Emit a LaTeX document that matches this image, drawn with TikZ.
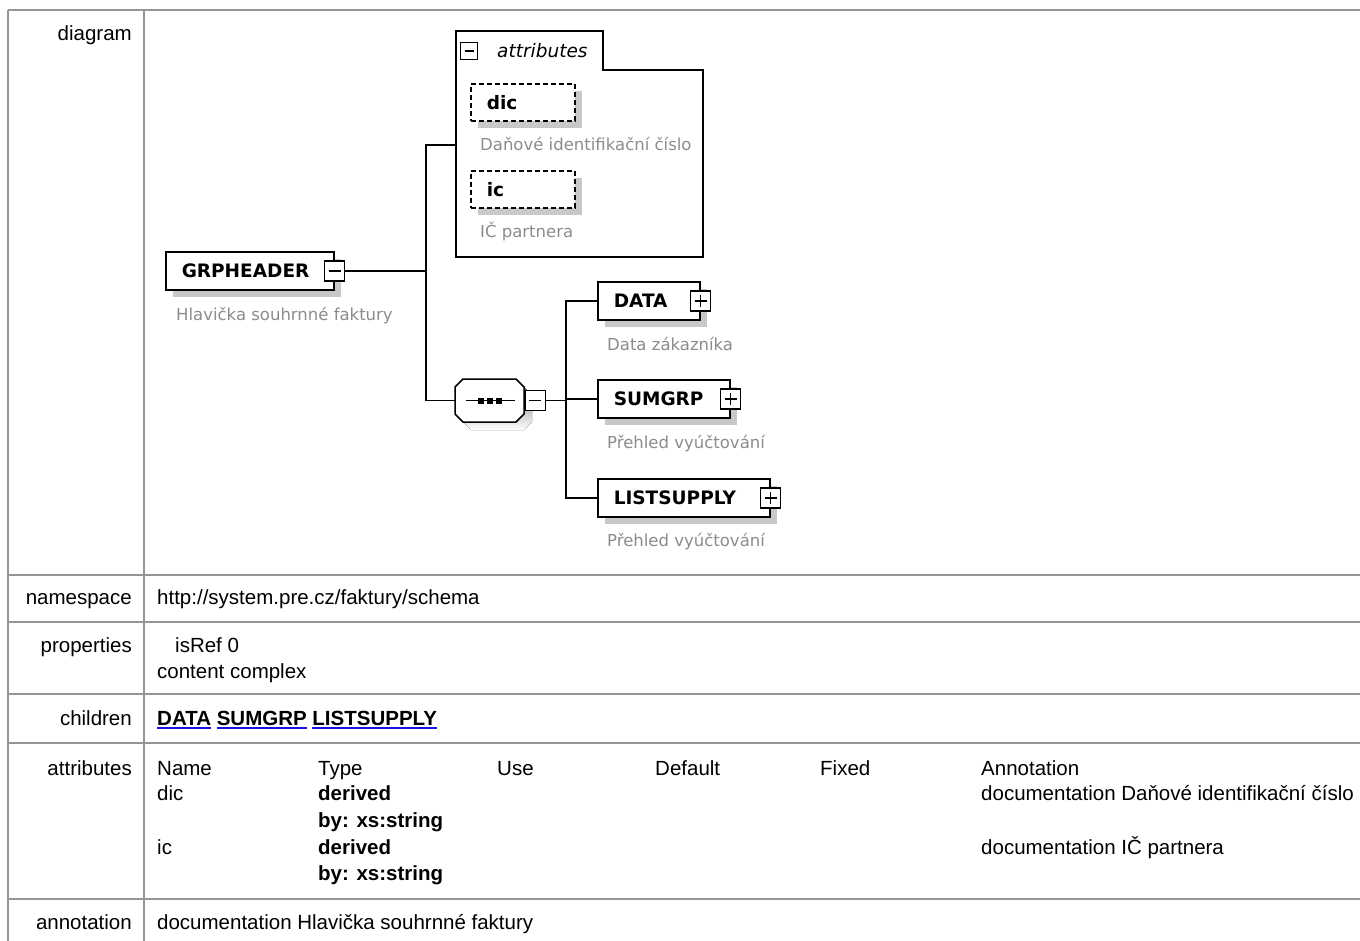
\documentclass[tikz,border=0pt]{standalone}
\usepackage{fontspec}
\setmainfont{Liberation Sans}
\newfontfamily\diagfont{DejaVu Sans}[BoldFont={DejaVu Sans Bold},ItalicFont={DejaVu Sans Oblique}]
\usetikzlibrary{shadows}
\definecolor{rulegray}{RGB}{150,150,150}
\definecolor{descgray}{RGB}{140,140,140}
\definecolor{shade}{RGB}{200,200,200}
\definecolor{linkblue}{RGB}{20,20,220}
\newcommand\tablefont{\fontsize{20.5}{25}\selectfont}
\newcommand\namefont{\diagfont\bfseries\fontsize{18.5}{22}\selectfont}
\newcommand\descfont{\diagfont\fontsize{16.5}{19}\selectfont}
\newcommand\tabfont{\diagfont\itshape\fontsize{18.5}{22}\selectfont}
\newcommand\linkword[1]{\setbox0\hbox{\bfseries #1}\rlap{\color{linkblue}\rule[-3.5pt]{\wd0}{1.8pt}}\box0\relax}

\begin{document}
\begin{tikzpicture}[x=1pt,y=-1pt,
  rowline/.style={rulegray, line width=2pt},
  colline/.style={rulegray, line width=1.5pt},
  lbl/.style={anchor=base east, inner sep=0pt, font=\tablefont},
  txt/.style={anchor=base west, inner sep=0pt, font=\tablefont},
  conn/.style={black, line width=1.5pt},
  elem/.style={draw, line width=1.5pt, fill=white,
    general shadow={fill=shade, shadow xshift=7pt, shadow yshift=-7pt},
    minimum height=38pt, inner xsep=16pt, inner ysep=0pt,
    text width=#1, align=left, anchor=west, font=\namefont},
  attrel/.style={elem=72pt, dash pattern=on 5pt off 3pt, minimum height=37pt},
  desc/.style={anchor=base west, inner sep=0pt, text=descgray, font=\descfont},
  pmbox/.style={draw, line width=1.3pt, fill=white, minimum size=20pt, inner sep=0pt,
    path picture={\draw[line width=1.3pt] ([xshift=4pt]path picture bounding box.west) -- ([xshift=-4pt]path picture bounding box.east);}},
  plusbox/.style={draw, line width=1.3pt, fill=white, minimum size=20pt, inner sep=0pt,
    path picture={\draw[line width=1.3pt] ([xshift=4pt]path picture bounding box.west) -- ([xshift=-4pt]path picture bounding box.east);
      \draw[line width=1.3pt] ([yshift=-4pt]path picture bounding box.north) -- ([yshift=4pt]path picture bounding box.south);}}]
  \useasboundingbox (0,0) rectangle (1360,941);
  \fill[white] (0,0) rectangle (1360,941);

  \foreach \ry in {10,575,622,694,743,899}
    \draw[rowline] (8,\ry) -- (1360,\ry);
  \draw[colline] (8,10) -- (8,941);
  \draw[colline] (144,10) -- (144,941);

  \node[lbl] (ldiagram) at (132,41) {diagram};
  \node[lbl] (lnamespace) at (132,604) {namespace};
  \node[lbl] (lproperties) at (132,652) {properties};
  \node[lbl] (lchildren) at (132,725) {children};
  \node[lbl] (lattributes) at (132,775) {attributes};
  \node[lbl] (lannotation) at (132,929) {annotation};

  \node[txt] (ns) at (157,604) {http://system.pre.cz/faktury/schema};
  \node[txt] (isref) at (175,652) {isRef 0};
  \node[txt] (content) at (157,678) {content complex};
  \node[txt] (kids) at (157,725) {\linkword{DATA} \linkword{SUMGRP} \linkword{LISTSUPPLY}};

  \node[txt] (hname) at (157,775) {Name};
  \node[txt] (htype) at (318,775) {Type};
  \node[txt] (huse) at (497,775) {Use};
  \node[txt] (hdefault) at (655,775) {Default};
  \node[txt] (hfixed) at (820,775) {Fixed};
  \node[txt] (hannot) at (981,775) {Annotation};
  \node[txt] (dicname) at (157,800) {dic};
  \node[txt] (dictype) at (318,800) {\bfseries derived};
  \node[txt] (dicby) at (318,827) {\bfseries by: xs:string};
  \node[txt] (dicdoc) at (981,800) {documentation Daňové identifikační číslo};
  \node[txt] (icname) at (157,854) {ic};
  \node[txt] (ictype) at (318,854) {\bfseries derived};
  \node[txt] (icby) at (318,880) {\bfseries by: xs:string};
  \node[txt] (icdoc) at (981,854) {documentation IČ partnera};
  \node[txt] (annot) at (157,929) {documentation Hlavička souhrnné faktury};

  \draw[line width=1.5pt, fill=white] (456,257) -- (456,31) -- (603,31) -- (603,70) -- (703,70) -- (703,257) -- cycle;
  \coordinate (attrin) at (456,145);
  \node[pmbox, minimum size=17pt] (attrm) at (469,51) {};
  \node[anchor=west, inner sep=0pt, font=\tabfont] (attrlbl) at (497,51) {attributes};
  \node[attrel] (dic) at (470,102.5) {dic};
  \node[desc] (dicd) at (480,151) {Daňové identifikační číslo};
  \node[attrel] (ic) at (470,189.5) {ic};
  \node[desc] (icd) at (480,238) {IČ partnera};

  \node[elem=136pt] (grp) at (165,271) {GRPHEADER};
  \node[pmbox] (grpm) at (grp.east) {};
  \node[desc] (grpd) at (176,320) {Hlavička souhrnné faktury};

  \node[minimum width=69pt, minimum height=43pt, inner sep=0pt] (seq) at (489.5,400.5) {};
  \fill[shade] (471,387) -- (524,387) -- (532,395) -- (532,422) -- (524,430) -- (471,430) -- (463,422) -- (463,395) -- cycle;
  \draw[line width=1.5pt, fill=white] (463,379) -- (516,379) -- (524,387) -- (524,414) -- (516,422) -- (463,422) -- (455,414) -- (455,387) -- cycle;
  \draw[line width=1.8pt] ([xshift=11pt]seq.west) -- ([xshift=-9pt]seq.east);
  \foreach \dx in {-9,0,9}
    \fill ([xshift=\dx pt]seq.center) +(-3,-3) rectangle +(3,3);
  \node[pmbox, minimum size=20pt] (seqm) at ([xshift=11pt]seq.east) {};

  \node[elem=70pt] (data) at (597,301) {DATA};
  \node[plusbox] (datap) at (data.east) {};
  \node[desc] (datad) at (607,350) {Data zákazníka};
  \node[elem=100pt] (sumgrp) at (597,399) {SUMGRP};
  \node[plusbox] (sumgrpp) at (sumgrp.east) {};
  \node[desc] (sumgrpd) at (607,448) {Přehled vyúčtování};
  \node[elem=140pt] (listsupply) at (597,498) {LISTSUPPLY};
  \node[plusbox] (listsupplyp) at (listsupply.east) {};
  \node[desc] (listsupplyd) at (607,546) {Přehled vyúčtování};

  \coordinate (fork) at (426,271);
  \coordinate (fork2) at (566,400.5);
  \draw[conn] (grpm.east) -- (fork);
  \draw[conn] (fork) |- (attrin);
  \draw[conn] (fork) |- (seq.west);
  \draw[conn] (seqm.east) -- (fork2);
  \draw[conn] (fork2) |- (data.west);
  \draw[conn] (fork2) |- (sumgrp.west);
  \draw[conn] (fork2) |- (listsupply.west);
\end{tikzpicture}
\end{document}
